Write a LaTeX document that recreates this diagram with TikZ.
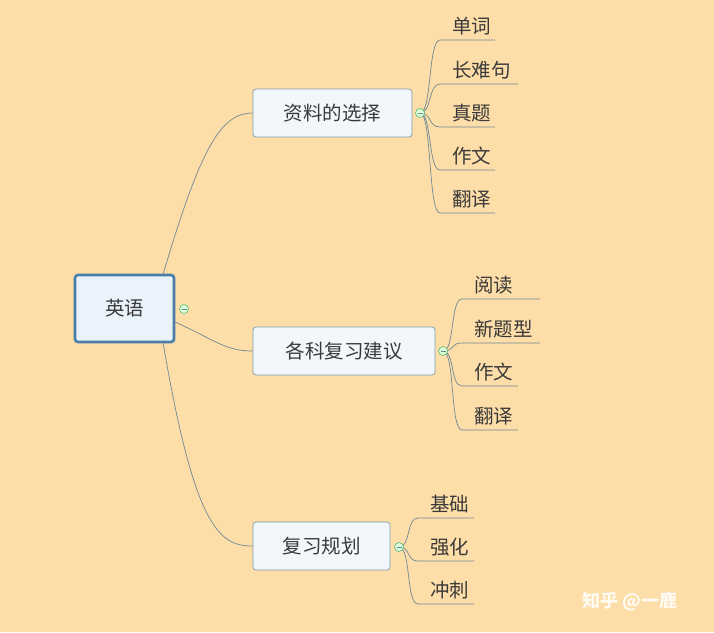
\documentclass[tikz,border=0pt]{standalone}
\usepackage{fontspec}
\setmainfont{Noto Sans CJK SC}
\definecolor{bg}{HTML}{FDDDA8}
\definecolor{ln}{HTML}{6F8A96}
\definecolor{bx}{HTML}{7F9BAA}
\definecolor{fillb}{HTML}{F2F7FC}
\definecolor{txt}{HTML}{3A3A3A}
\begin{document}
\begin{tikzpicture}[x=1pt,y=-1pt,
  conn/.style={draw=ln,line width=0.7pt},
  branch/.style={draw=bx,fill=fillb,rounded corners=3pt,line width=0.7pt,inner sep=0pt,font=\fontsize{19.5}{19.5}\selectfont,text=txt},
  leaf/.style={anchor=west,inner sep=0pt,font=\fontsize{19.5}{19.5}\selectfont,text=txt},
  knob/.style={circle,draw=ln!70!green,fill=green!15,minimum size=9pt,inner sep=0pt,line width=0.5pt}]
\fill[bg] (0,0) rectangle (714,632);
\useasboundingbox (0,0) rectangle (714,632);
% root
\node[draw={rgb,255:red,74;green,126;blue,168}, fill={rgb,255:red,234;green,242;blue,251}, line width=2.6pt, rounded corners=3pt, minimum width=99pt, minimum height=67pt, inner sep=0pt, font=\fontsize{19.5}{19.5}\selectfont, text=txt] (root) at (124.5,308.5) {英语};
\node[branch,minimum width=159pt,minimum height=48pt] (b1) at (332.5,113) {资料的选择};
\node[branch,minimum width=182pt,minimum height=48pt] (b2) at (344,351) {各科复习建议};
\node[branch,minimum width=137pt,minimum height=48pt] (b3) at (321.5,546) {复习规划};
\coordinate (rt) at (163,274.5);
\coordinate (rr) at (175,322);
\coordinate (rb) at (163,342.5);
\draw[conn] (rt) .. controls (200,150) and (220,113) .. (b1.west);
\draw[conn] (rr) .. controls (215,340) and (225,351) .. (b2.west);
\draw[conn] (rb) .. controls (195,530) and (220,546) .. (b3.west);
% group 1
\coordinate (k1) at (420,113);
\foreach \t/\y/\e [count=\i] in {单词/40/495,长难句/84/518,真题/127/495,作文/170/495,翻译/213/495}{
  \coordinate (u1\i) at (440,\y);
  \coordinate (v1\i) at (\e,\y);
  \draw[conn] (k1) .. controls (432,113) and (428,\y) .. (u1\i) -- (v1\i);
  \node[leaf] (l1\i) at (452,\y-14) {\t};
}
\node[knob] (kn1) at (k1) {};
\draw[ln,line width=0.7pt] ([xshift=-2.5pt]kn1.center) -- ([xshift=2.5pt]kn1.center);
% group 2
\coordinate (k2) at (443,351);
\foreach \t/\y/\e [count=\i] in {阅读/299/540,新题型/343/540,作文/386/518,翻译/430/518}{
  \coordinate (u2\i) at (462,\y);
  \coordinate (v2\i) at (\e,\y);
  \draw[conn] (k2) .. controls (455,351) and (450,\y) .. (u2\i) -- (v2\i);
  \node[leaf] (l2\i) at (474,\y-14) {\t};
}
\node[knob] (kn2) at (k2) {};
\draw[ln,line width=0.7pt] ([xshift=-2.5pt]kn2.center) -- ([xshift=2.5pt]kn2.center);
% group 3
\coordinate (k3) at (399,547);
\foreach \t/\y/\e [count=\i] in {基础/518/474,强化/561/474,冲刺/604/474}{
  \coordinate (u3\i) at (418,\y);
  \coordinate (v3\i) at (\e,\y);
  \draw[conn] (k3) .. controls (411,547) and (406,\y) .. (u3\i) -- (v3\i);
  \node[leaf] (l3\i) at (430,\y-14) {\t};
}
\node[knob] (kn3) at (k3) {};
\draw[ln,line width=0.7pt] ([xshift=-2.5pt]kn3.center) -- ([xshift=2.5pt]kn3.center);
\node[knob] (kn0) at (184,309) {};
\draw[ln,line width=0.7pt] ([xshift=-2.5pt]kn0.center) -- ([xshift=2.5pt]kn0.center);
% watermark
\node[anchor=west,inner sep=0pt,text=white!85!bg,font=\fontsize{18}{18}\selectfont\bfseries] (wm) at (582,601) {知乎 @一鹿};
\end{tikzpicture}
\end{document}
